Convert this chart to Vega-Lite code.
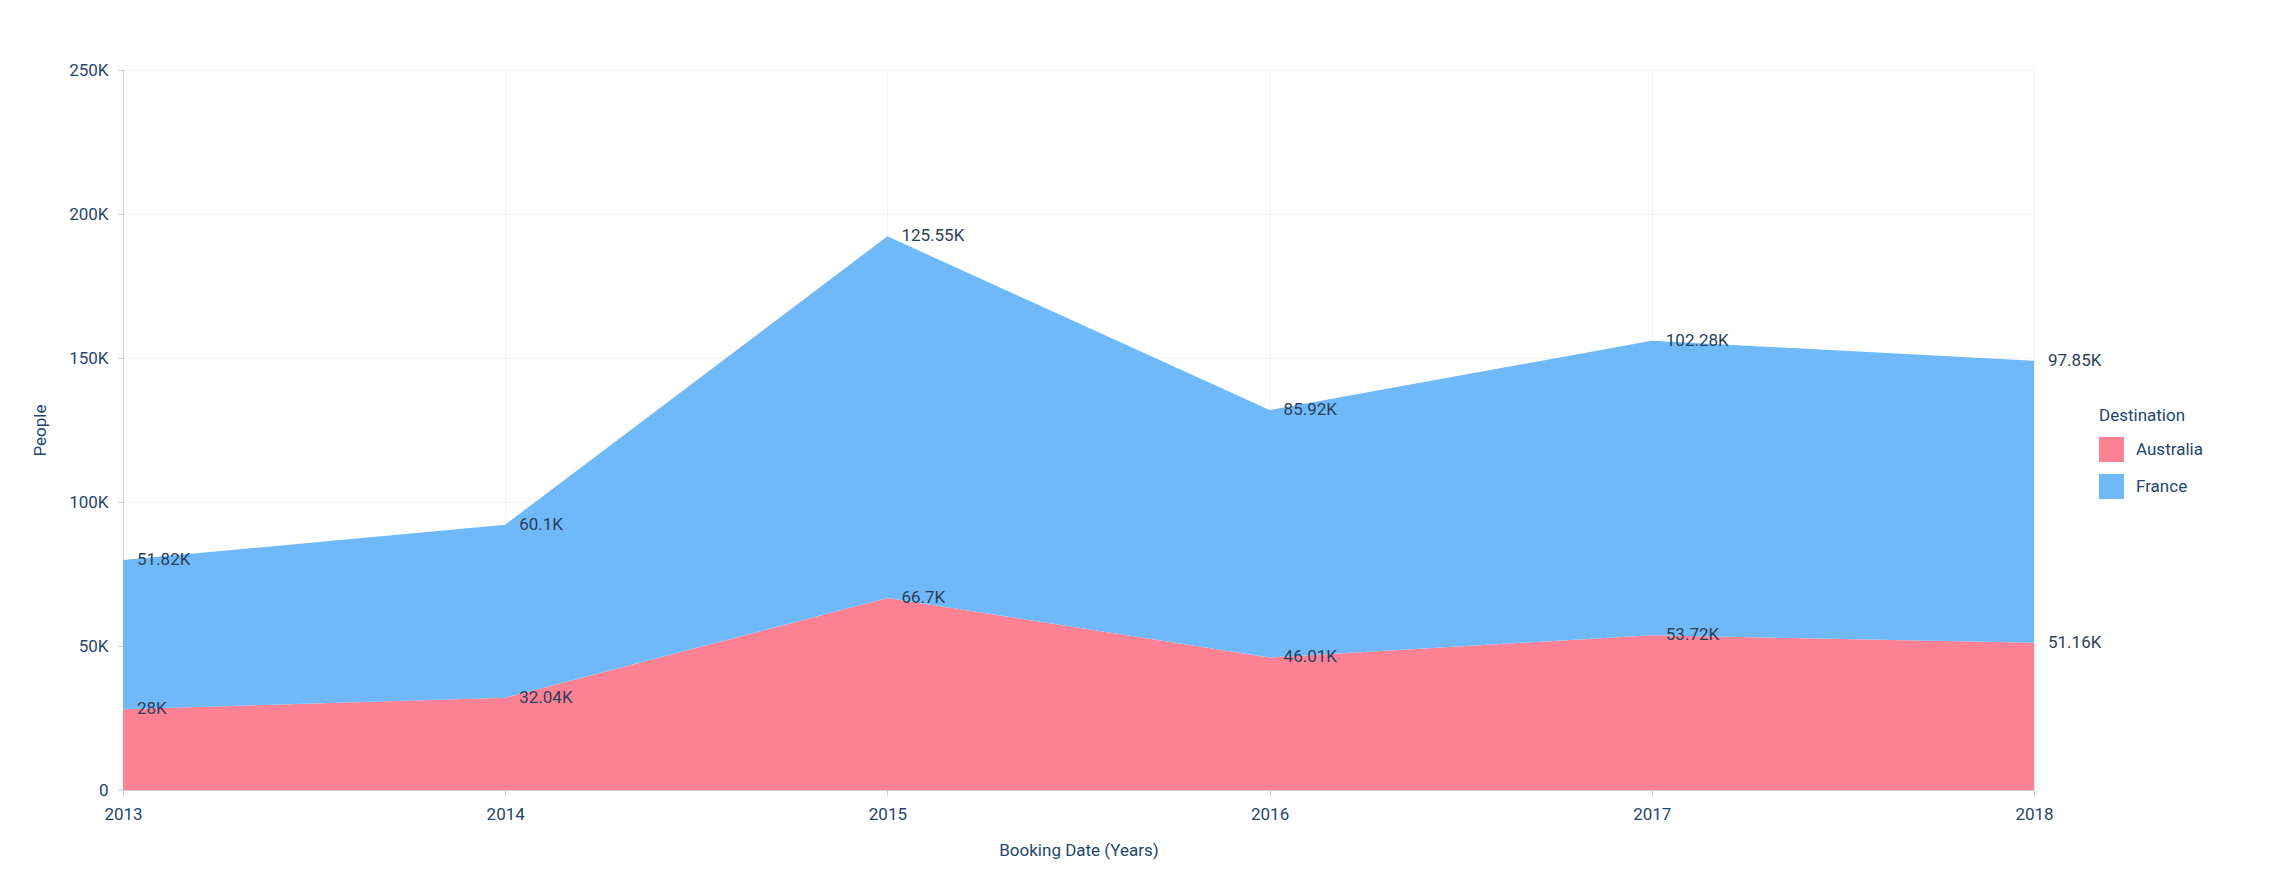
{
  "$schema": "https://vega.github.io/schema/vega-lite/v6.json",
  "width": 1911,
  "height": 720,
  "autosize": "none",
  "padding": {"left": 123, "top": 70, "right": 236, "bottom": 101},
  "background": "white",
  "data": {
    "values": [
      {"Year": 2013, "Destination": "Australia", "People": 28000},
      {"Year": 2014, "Destination": "Australia", "People": 32040},
      {"Year": 2015, "Destination": "Australia", "People": 66700},
      {"Year": 2016, "Destination": "Australia", "People": 46010},
      {"Year": 2017, "Destination": "Australia", "People": 53720},
      {"Year": 2018, "Destination": "Australia", "People": 51160},
      {"Year": 2013, "Destination": "France", "People": 51820},
      {"Year": 2014, "Destination": "France", "People": 60100},
      {"Year": 2015, "Destination": "France", "People": 125550},
      {"Year": 2016, "Destination": "France", "People": 85920},
      {"Year": 2017, "Destination": "France", "People": 102280},
      {"Year": 2018, "Destination": "France", "People": 97850}
    ]
  },
  "layer": [
    {
      "mark": {"type": "area", "opacity": 1},
      "encoding": {
        "x": {
          "field": "Year",
          "type": "quantitative",
          "title": "Booking Date (Years)",
          "scale": {"domain": [2013, 2018], "nice": false, "zero": false},
          "axis": {"values": [2013, 2014, 2015, 2016, 2017, 2018], "format": "d", "labelFlush": false}
        },
        "y": {
          "field": "People",
          "type": "quantitative",
          "stack": "zero",
          "title": "People",
          "scale": {"domain": [0, 250000], "nice": false},
          "axis": {
            "values": [0, 50000, 100000, 150000, 200000, 250000],
            "labelExpr": "datum.value == 0 ? '0' : datum.value / 1000 + 'K'"
          }
        },
        "order": {"field": "Destination", "sort": "ascending"},
        "color": {
          "field": "Destination",
          "type": "nominal",
          "scale": {"domain": ["Australia", "France"], "range": ["#ff8294", "#70b9f9"]},
          "legend": {
            "title": "Destination",
            "orient": "none",
            "legendX": 1976,
            "legendY": 338,
            "symbolType": "square",
            "symbolSize": 625,
            "symbolStrokeWidth": 0,
            "rowPadding": 12,
            "labelOffset": 12,
            "titlePadding": 12
          }
        }
      }
    },
    {
      "transform": [
        {"calculate": "format(datum.People / 1000, '.2~f') + 'K'", "as": "Label"}
      ],
      "mark": {"type": "text", "align": "left", "baseline": "middle", "dx": 14, "fontSize": 17, "color": "#2a3f58"},
      "encoding": {
        "x": {"field": "Year", "type": "quantitative", "scale": {"domain": [2013, 2018], "nice": false, "zero": false}},
        "y": {"field": "People", "type": "quantitative", "stack": "zero", "scale": {"domain": [0, 250000], "nice": false}},
        "order": {"field": "Destination", "sort": "ascending"},
        "detail": {"field": "Destination"},
        "text": {"field": "Label"}
      }
    }
  ],
  "config": {
    "font": "Roboto",
    "view": {"stroke": null},
    "axis": {
      "labelFont": "Roboto",
      "titleFont": "Roboto",
      "labelFontSize": 17,
      "titleFontSize": 17,
      "titleFontWeight": "normal",
      "labelColor": "#24466b",
      "titleColor": "#24466b",
      "gridColor": "#f2f2f2",
      "domainColor": "#d0d0d0",
      "tickColor": "#d0d0d0",
      "tickSize": 6,
      "labelPadding": 8
    },
    "axisX": {"titlePadding": 20, "labelPadding": 10},
    "axisY": {"titlePadding": 19, "labelPadding": 9},
    "legend": {
      "titleFont": "Roboto",
      "labelFont": "Roboto",
      "titleFontSize": 17,
      "labelFontSize": 17,
      "titleFontWeight": "normal",
      "titleColor": "#24466b",
      "labelColor": "#24466b"
    }
  }
}
